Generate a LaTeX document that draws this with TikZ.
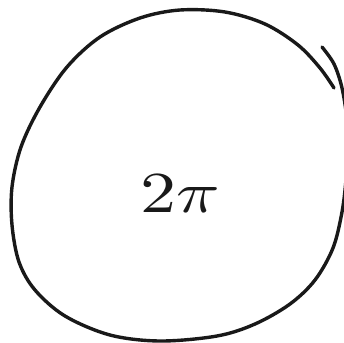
\documentclass[tikz,border=0pt]{standalone}
\begin{document}
\begin{tikzpicture}[x=1pt,y=-1pt,
  stroke/.style={line width=3.4pt, line cap=round, line join=round, black!90}]
\useasboundingbox (0,0) rectangle (344,342);
\draw[stroke] plot[smooth, tension=0.55] coordinates {
  (322,47) (334,64) (342,88) (347,120) (348,150) (346,180) (342,212) (333,248)
  (315,280) (290,304) (255,324) (217,336) (160,341) (110,335) (65,316) (35,290) (19,262)
  (12,225) (12,187) (21,147) (40,107) (67,67) (100,37) (140,18) (180,10)
  (225,12) (265,24) (298,45) (320,68) (334,88)};
\node[xscale=7.2, yscale=5.8, text=black!90] (lbl) at (180,194) {$2\pi$};
\end{tikzpicture}
\end{document}
